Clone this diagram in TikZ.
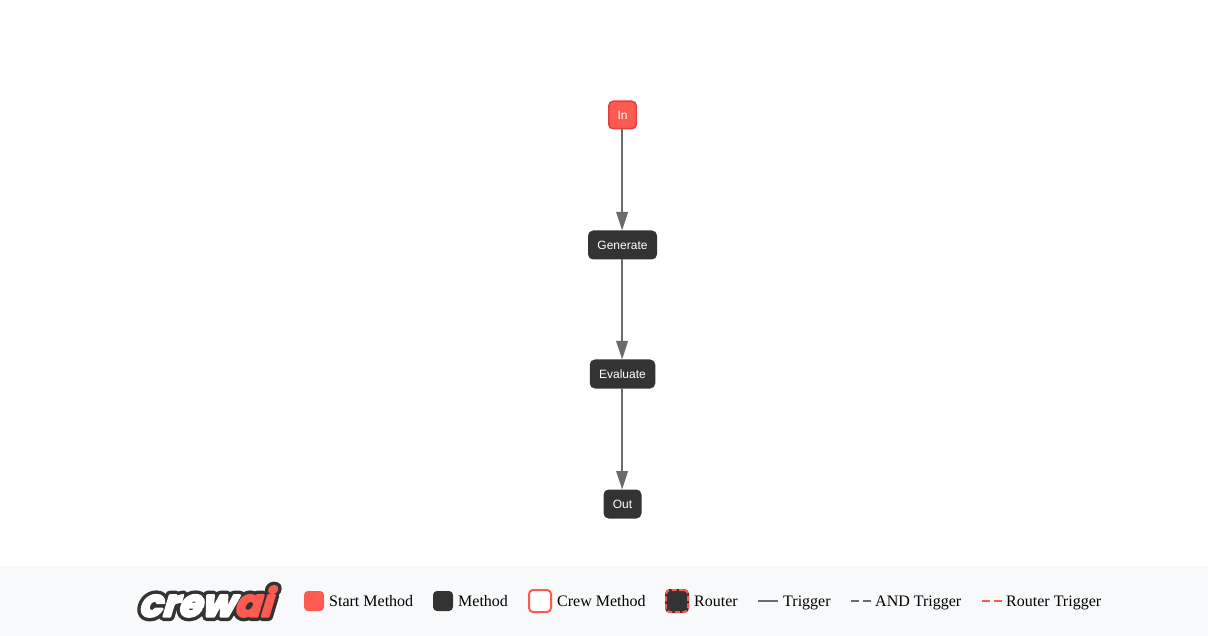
\documentclass[tikz,border=0pt]{standalone}
\usepackage{fontspec}
\setmainfont{Liberation Serif}
\newfontfamily\nodefont{Liberation Sans}
\newfontfamily\logoout[FakeSlant=0.3,FakeBold=24]{Poppins Bold}
\newfontfamily\logoin[FakeSlant=0.3,FakeBold=6]{Poppins Bold}
\usetikzlibrary{arrows.meta}
\definecolor{crewred}{HTML}{FF5A50}
\definecolor{crewedge}{HTML}{E53E3E}
\definecolor{crewdark}{HTML}{333333}
\definecolor{crewgray}{HTML}{6B6B6B}
\definecolor{legendbg}{HTML}{F8F9FA}
\tikzset{
  x=1pt,y=-1pt,
  flow/.style={rectangle,rounded corners=4.5pt,inner sep=0pt,line width=1.5pt,text=white,font=\nodefont\fontsize{12}{14}\selectfont,anchor=center},
  startnode/.style={flow,draw=crewedge,fill=crewred,minimum width=27.5pt,minimum height=27.5pt},
  methodnode/.style={flow,draw=crewdark,fill=crewdark,minimum height=27.5pt},
  conn/.style={draw=crewgray,line width=2pt,-{Triangle[width=11.5pt,length=18.5pt,color=crewgray]}},
  swatch/.style={rectangle,rounded corners=4pt,inner sep=0pt,minimum width=20pt,minimum height=20pt,anchor=center},
  legtext/.style={inner sep=0pt,anchor=base west,font=\fontsize{16}{18}\selectfont,text=black},
  legline/.style={line width=2pt},
  legdash/.style={line width=2pt,dash pattern=on 8pt off 3.5pt},
}
\begin{document}
\begin{tikzpicture}
\useasboundingbox (0,0) rectangle (1208,636);
\fill[white] (0,0) rectangle (1208,636);
\fill[legendbg] (0,566) rectangle (1208,636);

\node[startnode] (in) at (622.5,115) {In};
\node[methodnode,minimum width=67.5pt] (gen) at (622.5,245) {Generate};
\node[methodnode,minimum width=64pt] (eval) at (622.5,374) {Evaluate};
\node[methodnode,minimum width=36.5pt] (out) at (622.5,504) {Out};
\draw[conn] ([xshift=-0.4pt]in.south) -- ([xshift=-0.4pt]gen.north);
\draw[conn] ([xshift=-0.4pt]gen.south) -- ([xshift=-0.4pt]eval.north);
\draw[conn] ([xshift=-0.4pt]eval.south) -- ([xshift=-0.4pt]out.north);

% logo
\begin{scope}[line join=round,line cap=round]
\node[inner sep=0pt,anchor=base west,text=crewdark,font=\logoout\fontsize{38}{40}\selectfont] (logoa) at (138,616.5) {\special{pdf:code 1 j 1 J}crewai};
\node[inner sep=0pt,anchor=base west,text=white,font=\logoin\fontsize{38}{40}\selectfont] (logob) at (138,616.5) {\special{pdf:code 1 j 1 J}crew\textcolor{crewred}{ai}};
\end{scope}

% legend
\node[swatch,fill=crewred] (s1) at (314,601) {};
\node[legtext] (t1) at (329,606) {Start Method};
\node[swatch,fill=crewdark] (s2) at (443,601) {};
\node[legtext] (t2) at (458,606) {Method};
\node[swatch,fill=white,draw=crewred,line width=2pt,minimum width=22pt,minimum height=22pt] (s3) at (540,601) {};
\node[legtext] (t3) at (557,606) {Crew Method};
\node[swatch,fill=crewdark,draw=crewdark,line width=2pt,minimum width=22pt,minimum height=22pt] (s4b) at (677,601) {};
\node[swatch,draw=crewred,line width=2pt,dash pattern=on 5pt off 2.5pt,minimum width=22pt,minimum height=22pt] (s4) at (677,601) {};
\node[legtext] (t4) at (694,606) {Router};
\coordinate (l1a) at (758,601); \coordinate (l1b) at (778,601);
\draw[legline,draw=crewgray] (l1a) -- (l1b);
\node[legtext] (t5) at (783,606) {Trigger};
\coordinate (l2a) at (851,601); \coordinate (l2b) at (871,601);
\draw[legdash,draw=crewgray] (l2a) -- (l2b);
\node[legtext] (t6) at (875,606) {AND Trigger};
\coordinate (l3a) at (982,601); \coordinate (l3b) at (1002,601);
\draw[legdash,draw=crewred] (l3a) -- (l3b);
\node[legtext] (t7) at (1006,606) {Router Trigger};
\end{tikzpicture}
\end{document}
